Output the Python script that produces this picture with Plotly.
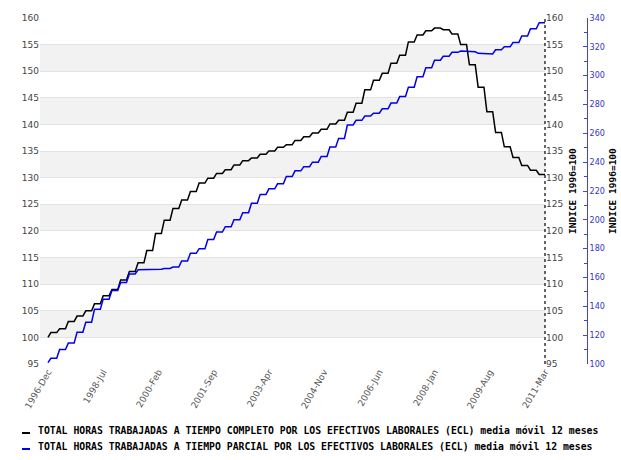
import plotly.graph_objects as go

# Quarterly values (first entry = Dec 1996 alone, then one value per quarter, Q1 1997 .. Q1 2011)
quarters = ["1996-Q4"] + [f"{y}-Q{q}" for y in range(1997, 2011) for q in range(1, 5)] + ["2011-Q1"]
months_in_period = [1] + [3] * (len(quarters) - 1)

completo = [100.0, 100.9, 101.6, 103.0, 104.0, 105.0, 106.3, 107.8, 109.0, 110.8,
            112.4, 114.0, 116.3, 119.5, 122.0, 124.2, 125.8, 127.4, 129.0, 129.9,
            130.8, 131.5, 132.4, 133.2, 133.7, 134.4, 135.0, 135.7, 136.2, 137.0,
            137.7, 138.4, 139.1, 140.1, 140.8, 142.3, 144.0, 146.5, 148.3, 149.6,
            151.5, 153.0, 155.5, 156.8, 157.6, 158.1, 157.8, 157.0, 155.0, 151.2,
            147.0, 142.4, 138.5, 135.8, 133.8, 132.3, 131.4, 130.6]

parcial = [101.0, 104.0, 110.0, 114.5, 122.0, 129.0, 138.0, 145.0, 151.0, 156.5,
           162.5, 165.3, 165.6, 165.7, 166.3, 167.2, 171.5, 176.8, 180.0, 186.3,
           191.5, 195.2, 200.0, 205.0, 211.5, 217.5, 221.5, 225.0, 230.0, 234.0,
           236.9, 240.0, 244.0, 250.5, 256.5, 265.8, 269.0, 272.0, 274.0, 277.0,
           281.0, 285.5, 292.0, 299.3, 305.5, 310.7, 313.5, 316.2, 317.1, 316.6,
           315.5, 315.0, 318.0, 320.0, 323.0, 327.5, 332.5, 336.7]

tick_labels = ["1996-Dec", "1998-Jul", "2000-Feb", "2001-Sep", "2003-Apr",
               "2004-Nov", "2006-Jun", "2008-Jan", "2009-Aug", "2011-Mar"]

month_names = ["Jan", "Feb", "Mar", "Apr", "May", "Jun", "Jul", "Aug", "Sep", "Oct", "Nov", "Dec"]

label_full = "TOTAL HORAS TRABAJADAS A TIEMPO COMPLETO POR LOS EFECTIVOS LABORALES (ECL) media móvil 12 meses"
label_parcial = "TOTAL HORAS TRABAJADAS A TIEMPO PARCIAL POR LOS EFECTIVOS LABORALES (ECL) media móvil 12 meses"

BLACK = "#000000"
BLUE = "#0000ee"

# expand quarterly values into monthly points (each quarter holds for its months)
x, yc, yp = [], [], []
m = 0
for i, n in enumerate(months_in_period):
    for _ in range(n):
        x.append(m)
        yc.append(completo[i])
        yp.append(parcial[i])
        m += 1

def month_index(lbl):
    yr, mn = lbl.split("-")
    return (int(yr) - 1996) * 12 + month_names.index(mn) - 11

tick_vals = [month_index(t) for t in tick_labels]

# body margin removed in the page (post_script), so figure sits at (0, 0)
W, H = 621, 460
ML, MR, MT = 40, 0, 18
MB = H - 364
pw = W - ML - MR
ph = H - MT - MB

def px(X):  # reference pixel x -> paper x
    return (X - ML) / pw

def py(Y):  # reference pixel y -> paper y
    return (364 - Y) / ph

dom_end = px(545)
blue_pos = px(587)

fig = go.Figure()
fig.add_trace(go.Scatter(x=x, y=yc, mode="lines", line=dict(color=BLACK, width=1.5),
                         name=label_full, yaxis="y", showlegend=False))
fig.add_trace(go.Scatter(x=x, y=yp, mode="lines", line=dict(color=BLUE, width=1.5),
                         name=label_parcial, yaxis="y3", showlegend=False))
# invisible trace so the right black axis shows its labels
fig.add_trace(go.Scatter(x=[x[0]], y=[yc[0]], yaxis="y2", mode="markers",
                         marker=dict(opacity=0), showlegend=False, hoverinfo="skip"))

# alternating background bands
shapes = []
for lo in range(100, 160, 10):
    shapes.append(dict(type="rect", xref="x domain", x0=0, x1=1, yref="y", y0=lo, y1=lo + 5,
                       fillcolor="#f2f2f2", line=dict(width=0), layer="below"))
# dotted right axis line
shapes.append(dict(type="line", xref="x domain", x0=1, x1=1, yref="y domain", y0=0, y1=1,
                   line=dict(color=BLACK, width=1.2, dash="dot")))
# legend keys
for Y, col in [(433, BLACK), (449, BLUE)]:
    shapes.append(dict(type="line", xref="paper", yref="paper", x0=px(22), x1=px(30),
                       y0=py(Y), y1=py(Y), line=dict(color=col, width=2)))

mono = "DejaVu Sans Mono"
annotations = [
    dict(text="<b>INDICE 1996=100</b>", xref="paper", yref="paper",
         x=px(572), y=0.5, textangle=-90, showarrow=False,
         font=dict(family=mono, size=9.5, color=BLACK), xanchor="center", yanchor="middle"),
    dict(text="<b>INDICE 1996=100</b>", xref="paper", yref="paper",
         x=px(612), y=0.5, textangle=-90, showarrow=False,
         font=dict(family=mono, size=9.5, color=BLACK), xanchor="center", yanchor="middle"),
    dict(text="<b>" + label_full + "</b>", xref="paper", yref="paper",
         x=px(36), y=py(430), showarrow=False,
         font=dict(family=mono, size=9.8, color=BLACK), xanchor="left", yanchor="middle"),
    dict(text="<b>" + label_parcial + "</b>", xref="paper", yref="paper",
         x=px(36), y=py(446), showarrow=False,
         font=dict(family=mono, size=9.8, color=BLACK), xanchor="left", yanchor="middle"),
]

fig.update_layout(
    width=W, height=H,
    margin=dict(l=ML, r=MR, t=MT, b=MB, pad=0, autoexpand=False),
    paper_bgcolor="white", plot_bgcolor="white",
    font=dict(family="DejaVu Sans", size=9, color="#444444"),
    xaxis=dict(domain=[0, dom_end], range=[-2.75, 171], tickmode="array",
               tickvals=tick_vals, ticktext=tick_labels, tickangle=-60,
               showgrid=False, zeroline=False, showline=False, ticks="",
               automargin=False, tickfont=dict(size=9, color="#555555")),
    yaxis=dict(range=[95, 160], dtick=5, showgrid=True, gridcolor="#e2e2e2", gridwidth=1,
               zeroline=False, showline=False, ticks="", automargin=False,
               tickfont=dict(size=9, color="#444444")),
    yaxis2=dict(range=[95, 160], dtick=5, overlaying="y", side="right", anchor="x",
                showgrid=False, zeroline=False, showline=False, ticks="", automargin=False,
                tickfont=dict(size=9, color="#444444")),
    yaxis3=dict(range=[100, 340], dtick=20, overlaying="y", side="right", anchor="free",
                position=blue_pos, showgrid=False, zeroline=False, showline=True,
                linecolor="#4444dd", linewidth=1, ticks="inside", ticklen=4, tickcolor="#4444dd",
                minor=dict(dtick=10, ticks="inside", ticklen=3, tickcolor="#4444dd"),
                automargin=False, tickfont=dict(size=8, color="#3333cc")),
    shapes=shapes,
    annotations=annotations,
)

fig.write_html("out.html",
               config={"displayModeBar": False},
               post_script="document.body.style.margin='0';document.body.style.overflow='hidden';")
